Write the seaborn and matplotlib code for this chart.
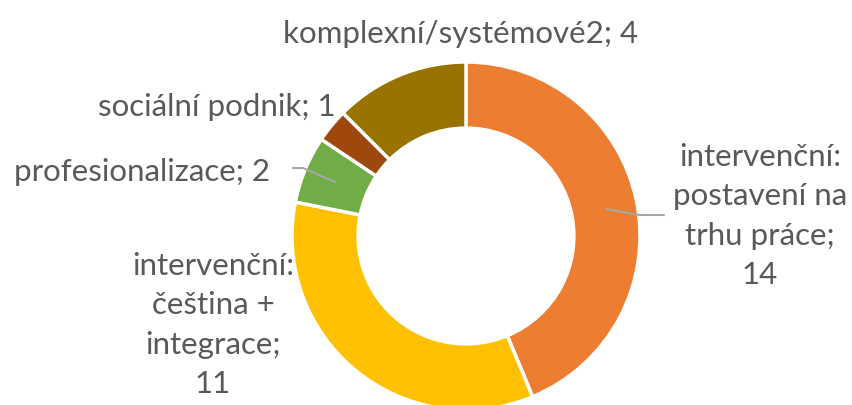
import matplotlib
matplotlib.use("Agg")
import matplotlib.pyplot as plt
import seaborn as sns

# data
categories = ["intervenční: postavení na trhu práce", "intervenční: čeština + integrace",
              "profesionalizace", "sociální podnik", "komplexní/systémové2"]
values = [14, 11, 2, 1, 4]
colors = ["#ED7D31", "#FFC000", "#70AD47", "#9E480E", "#997300"]
label_texts = ["intervenční:\npostavení na\ntrhu práce;\n14",
               "intervenční:\nčeština +\nintegrace;\n11",
               "profesionalizace; 2",
               "sociální podnik; 1",
               "komplexní/systémové2; 4"]

sns.set_theme(style="white")
plt.rcParams['font.family'] = ['Lato', 'DejaVu Sans']

W, H = 853, 405
fig = plt.figure(figsize=(W / 100, H / 100), dpi=100)
ax = fig.add_axes([0, 0, 1, 1])

cx, cy, r = 466, H - 236, 174
ax.pie(values, colors=colors, startangle=90, counterclock=False,
       center=(cx, cy), radius=r, frame=True,
       wedgeprops=dict(width=r * 0.38, edgecolor="white", linewidth=2.5))
ax.set_xlim(0, W)
ax.set_ylim(0, H)
ax.set_aspect("equal")
ax.axis("off")

txt = dict(color="#595959", fontsize=22.5)
# label placement (pixel coords from top)
ax.text(760, H - 216, label_texts[0], ha="center", va="center", linespacing=1.48, **txt)
ax.text(213, H - 325, label_texts[1], ha="center", va="center", linespacing=1.48, **txt)
ax.text(270, H - 172, label_texts[2], ha="right", va="center", **txt)
ax.text(336, H - 107, label_texts[3], ha="right", va="center", **txt)
ax.text(461, H - 34, label_texts[4], ha="center", va="center", **txt)

lc = "#A6A6A6"
ax.plot([606, 640, 664], [H - 209, H - 215, H - 215], color=lc, lw=1.5)
ax.plot([293, 303, 335], [H - 168, H - 168, H - 182], color=lc, lw=1.5)

fig.savefig("out.png", dpi=100)
